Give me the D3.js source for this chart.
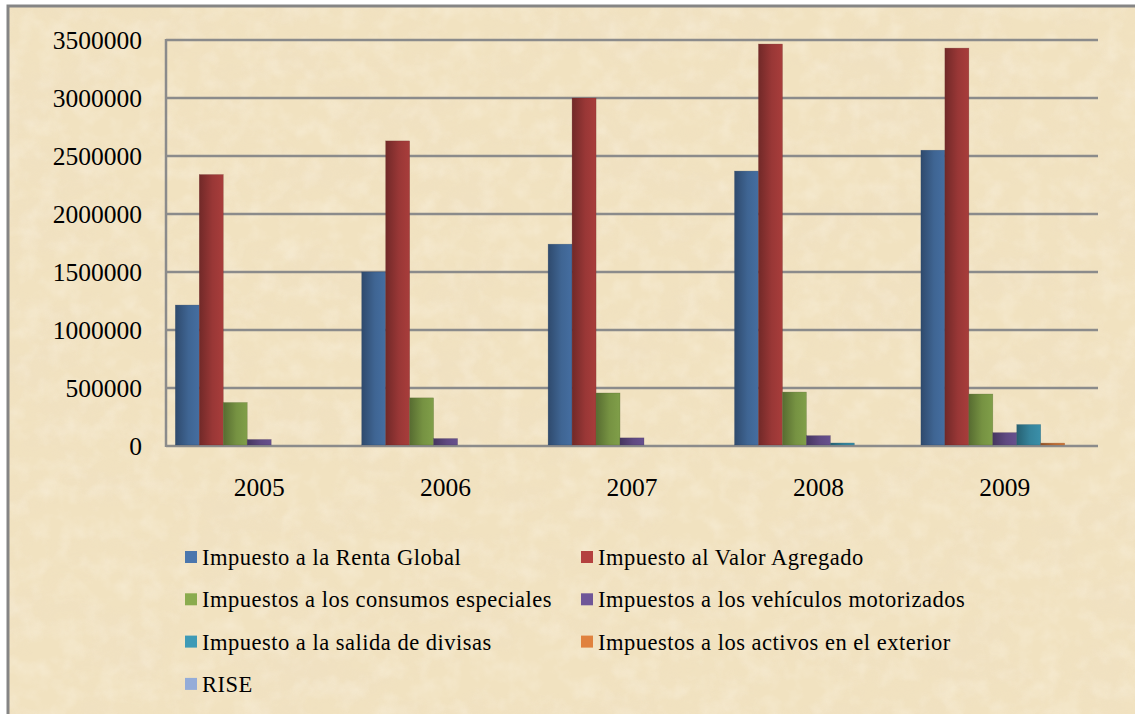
<!DOCTYPE html>
<html>
<head>
<meta charset="utf-8">
<script src="https://cdn.jsdelivr.net/npm/d3@7"></script>
<style>
  body { margin: 0; background: #fff; }
  svg { display: block; }
</style>
</head>
<body>
<div id="chart"></div>
<script>
// data
const years = ["2005", "2006", "2007", "2008", "2009"];
const seriesNames = [
    "Impuesto a la Renta Global",
    "Impuesto al Valor Agregado",
    "Impuestos a los consumos especiales",
    "Impuestos a los vehículos motorizados",
    "Impuesto a la salida de divisas",
    "Impuestos a los activos en el exterior",
    "RISE"
];
const rentaGlobal = [1215000, 1500000, 1740000, 2370000, 2550000];
const valorAgregado = [2340000, 2630000, 3000000, 3465000, 3430000];
const consumosEspeciales = [375000, 415000, 457000, 465000, 448000];
const vehiculos = [56000, 64000, 70000, 89000, 115000];
const salidaDivisas = [0, 0, 0, 26000, 185000];
const activosExterior = [0, 0, 0, 0, 25000];
const rise = [0, 0, 0, 1500, 3500];
const yTicks = [0, 500000, 1000000, 1500000, 2000000, 2500000, 3000000, 3500000];

const seriesValues = [rentaGlobal, valorAgregado, consumosEspeciales, vehiculos, salidaDivisas, activosExterior, rise];
const colors = ["#4a76ad", "#b4413f", "#8aab4e", "#6f5698", "#3e9ab6", "#e0813e", "#94acd8"];
const serif = "Liberation Serif, Times New Roman, serif";

const width = 1135, height = 714;
const svg = d3.select("#chart").append("svg").attr("width", width).attr("height", height);
const defs = svg.append("defs");

// parchment look
let paper = defs.append("filter").attr("id", "paper").attr("x", 0).attr("y", 0).attr("width", 1).attr("height", 1);
paper.append("feTurbulence").attr("type", "fractalNoise").attr("baseFrequency", "0.012 0.02").attr("numOctaves", 4).attr("seed", 7).attr("result", "noise");
paper.append("feColorMatrix").attr("in", "noise").attr("type", "matrix")
    .attr("values", "0 0 0 0 0.86  0 0 0 0 0.74  0 0 0 0 0.55  1.8 0 0 0 -0.7");
let spots = defs.append("filter").attr("id", "spots").attr("x", 0).attr("y", 0).attr("width", 1).attr("height", 1);
spots.append("feTurbulence").attr("type", "fractalNoise").attr("baseFrequency", "0.05").attr("numOctaves", 3).attr("seed", 3).attr("result", "noise");
spots.append("feColorMatrix").attr("in", "noise").attr("type", "matrix")
    .attr("values", "0 0 0 0 1  0 0 0 0 0.97  0 0 0 0 0.9  0 1.8 0 0 -0.75");

seriesNames.forEach((s, i) => {
    let c = d3.color(colors[i]);
    let g = defs.append("linearGradient").attr("id", "grad" + i).attr("x1", 0).attr("x2", 1).attr("y1", 0).attr("y2", 0);
    g.append("stop").attr("offset", "0%").attr("stop-color", c.darker(1.3));
    g.append("stop").attr("offset", "55%").attr("stop-color", c.darker(0.45));
    g.append("stop").attr("offset", "100%").attr("stop-color", c.darker(0.2));
});

// background + frame
svg.append("rect").attr("x", 8).attr("y", 6).attr("width", width).attr("height", height).attr("fill", "#f1e2c0");
svg.append("rect").attr("x", 8).attr("y", 6).attr("width", width).attr("height", height).attr("filter", "url(#paper)").attr("opacity", 0.5);
svg.append("rect").attr("x", 8).attr("y", 6).attr("width", width).attr("height", height).attr("filter", "url(#spots)").attr("opacity", 0.3);
svg.append("rect").attr("x", 8).attr("y", 6).attr("width", width + 10).attr("height", height + 10)
    .attr("fill", "none").attr("stroke", "#858585").attr("stroke-width", 3);

const plotLeft = 166, plotRight = 1098, plotTop = 40, plotBottom = 446;
const y = d3.scaleLinear().domain([0, 3500000]).range([plotBottom, plotTop]);
const x0 = d3.scaleBand().domain(years).range([plotLeft, plotRight]).paddingInner(0.1).paddingOuter(0.05);
const x1 = d3.scaleBand().domain(d3.range(seriesNames.length)).range([0, x0.bandwidth()]);

// gridlines
svg.append("g").selectAll("line").data(yTicks).join("line")
    .attr("x1", plotLeft).attr("x2", plotRight)
    .attr("y1", d => y(d)).attr("y2", d => y(d))
    .attr("stroke", "#8b8b8b").attr("stroke-width", 2.5);
svg.append("line").attr("x1", plotLeft).attr("x2", plotLeft).attr("y1", plotTop - 1).attr("y2", plotBottom + 1)
    .attr("stroke", "#8b8b8b").attr("stroke-width", 2.5);

// y axis labels
let yAxis = svg.append("g").attr("transform", `translate(${plotLeft},0)`)
    .call(d3.axisLeft(y).tickValues(yTicks).tickSize(0).tickPadding(24).tickFormat(d3.format("d")));
yAxis.select(".domain").remove();
yAxis.selectAll("text").attr("font-family", serif)
    .attr("font-size", 25.5).attr("fill", "#000").attr("dy", "0.34em");

// x axis labels
let xAxis = svg.append("g").attr("transform", `translate(0,${plotBottom})`)
    .call(d3.axisBottom(x0).tickSize(0).tickPadding(32));
xAxis.select(".domain").remove();
xAxis.selectAll("text").attr("font-family", serif)
    .attr("font-size", 25.5).attr("fill", "#000");

// bars
let groups = svg.append("g").selectAll("g").data(years).join("g")
    .attr("transform", d => `translate(${x0(d)},0)`);
groups.selectAll("rect")
    .data((d, yi) => seriesValues.map((vals, si) => ({ si: si, v: vals[yi] })))
    .join("rect")
    .attr("x", d => x1(d.si))
    .attr("width", x1.bandwidth())
    .attr("y", d => y(d.v))
    .attr("height", d => Math.max(0, y(0) - y(d.v) - 1))
    .attr("fill", d => "url(#grad" + d.si + ")")
    .attr("stroke", d => d.v > 0 ? d3.color(colors[d.si]).darker(1.5) : "none")
    .attr("stroke-width", 0.5)
    .attr("stroke-opacity", 0.5);

// legend
let legend = svg.append("g");
seriesNames.forEach((name, i) => {
    let col = i % 2, row = Math.floor(i / 2);
    let lx = col == 0 ? 185 : 581;
    let ly = 551 + row * 42.3;
    legend.append("rect").attr("x", lx).attr("y", ly).attr("width", 12).attr("height", 12).attr("fill", colors[i]);
    legend.append("text").attr("x", lx + 17).attr("y", ly + 14)
        .attr("font-family", serif).attr("letter-spacing", 0.5)
        .attr("font-size", 22.5).attr("fill", "#000").text(name);
});
</script>
</body>
</html>
